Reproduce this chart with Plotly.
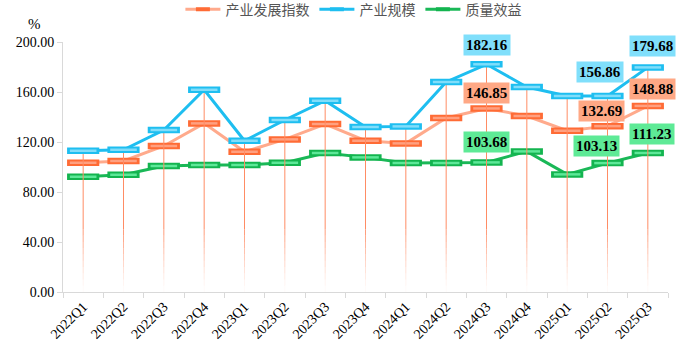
import plotly.graph_objects as go

categories = ["2022Q1", "2022Q2", "2022Q3", "2022Q4", "2023Q1", "2023Q2", "2023Q3", "2023Q4",
              "2024Q1", "2024Q2", "2024Q3", "2024Q4", "2025Q1", "2025Q2", "2025Q3"]
dev_index = [103.4, 104.8, 116.8, 134.9, 112.2, 122.1, 134.4, 121.0, 118.9, 139.2, 146.85, 140.8, 129.0, 132.69, 148.88]
scale = [113.0, 113.8, 129.6, 161.8, 121.0, 137.6, 153.0, 132.0, 132.5, 168.0, 182.16, 164.0, 156.8, 156.86, 179.68]
quality = [92.2, 93.8, 100.8, 101.6, 101.6, 103.4, 111.2, 107.7, 103.2, 103.2, 103.68, 112.5, 94.1, 103.13, 111.23]
series_names = ["产业发展指数", "产业规模", "质量效益"]
y_ticks = [0, 40, 80, 120, 160, 200]
label_idx = [10, 13, 14]

SERIF = "Liberation Serif, Times New Roman, serif"
CJK = "Noto Sans CJK SC"

styles = {
    "产业发展指数": dict(line="#FFAA8C", border="#FF6B35", fill="#FFA080", box="#FFA885"),
    "产业规模": dict(line="#1EBEF0", border="#1EBEF0", fill="#80DDFA", box="#80DFFB"),
    "质量效益": dict(line="#1AB857", border="#13B44F", fill="#5DE898", box="#5EEA96"),
}
data = {"产业发展指数": dev_index, "产业规模": scale, "质量效益": quality}

fig = go.Figure()


def add_series(name):
    st = styles[name]
    vals = data[name]
    fig.add_trace(go.Scatter(x=categories, y=vals, mode="lines", showlegend=False,
                             line=dict(color=st["line"], width=3), hoverinfo="skip"))
    fig.add_trace(go.Scatter(x=categories, y=vals, mode="markers", showlegend=False,
                             marker=dict(symbol="line-ew", size=23, color=st["border"],
                                         line=dict(color=st["border"], width=6.5)),
                             hoverinfo="skip"))
    fig.add_trace(go.Scatter(x=categories, y=vals, mode="markers", showlegend=False,
                             marker=dict(symbol="line-ew", size=19, color=st["fill"],
                                         line=dict(color=st["fill"], width=2.5)),
                             hoverinfo="skip"))


add_series("质量效益")
add_series("产业发展指数")

# vertical drop lines from top value to axis, fading near the bottom
tops = [max(a, b, c) for a, b, c in zip(dev_index, scale, quality)]
steps = 10
fade_top = 50.0
for k in range(steps + 1):
    xs, ys = [], []
    for c, t in zip(categories, tops):
        if k < steps:
            y0 = fade_top * k / steps
            y1 = fade_top * (k + 1) / steps
        else:
            y0, y1 = fade_top, t
        xs += [c, c, None]
        ys += [y0, y1, None]
    alpha = 1.0 if k == steps else 0.03 + 0.92 * (k / steps) ** 1.2
    fig.add_trace(go.Scatter(x=xs, y=ys, mode="lines", showlegend=False, hoverinfo="skip",
                             line=dict(color=f"rgba(255,140,100,{alpha:.3f})", width=1)))

add_series("产业规模")

# legend-only traces
for name in series_names:
    st = styles[name]
    fig.add_trace(go.Scatter(x=[None], y=[None], mode="lines+markers", name=name,
                             line=dict(color=st["line"], width=3),
                             marker=dict(symbol="line-ew", size=10, color=st["border"],
                                         line=dict(color=st["border"], width=4))))

# value labels
shifts = {
    10: {"产业规模": (0, 19), "产业发展指数": (0, 15), "质量效益": (0, 20)},
    13: {"产业规模": (-8, 23.5), "产业发展指数": (-6, 15), "质量效益": (-11, 17)},
    14: {"产业规模": (5, 21), "产业发展指数": (5, 17), "质量效益": (4, 19)},
}
for i in label_idx:
    for name in series_names:
        v = data[name][i]
        xs_, ys_ = shifts[i][name]
        fig.add_annotation(x=categories[i], y=v, xref="x", yref="y", text=f"{v:.2f}",
                           showarrow=False, xshift=xs_, yshift=ys_,
                           xanchor="center", yanchor="middle",
                           bgcolor=styles[name]["box"], borderpad=2,
                           font=dict(family=SERIF, size=15, color="#000000", weight="bold"))

fig.add_annotation(x=(34 - 63) / (690 - 63 - 22), y=(357 - 65 - 24) / (357 - 42 - 65),
                   xref="paper", yref="paper", text="%", showarrow=False,
                   xanchor="center", yanchor="middle",
                   font=dict(family=SERIF, size=15, color="#000000"))

fig.update_layout(
    width=690, height=357,
    margin=dict(l=63, r=22, t=42, b=65, autoexpand=False),
    plot_bgcolor="white", paper_bgcolor="white",
    showlegend=True,
    legend=dict(orientation="h", x=0.48, xanchor="center", y=0.973, yanchor="middle",
                yref="container",
                font=dict(family=CJK, size=14, color="#555555"), itemwidth=35,
                bgcolor="rgba(0,0,0,0)"),
    xaxis=dict(type="category", categoryorder="array", categoryarray=categories,
               range=[-0.5, len(categories) - 0.5],
               showgrid=False, showline=True, linecolor="#D9D9D9", linewidth=1,
               ticks="outside", tickson="boundaries", ticklen=5, tickcolor="#D9D9D9",
               tickangle=-45, tickfont=dict(family=SERIF, size=14, color="#000000"),
               zeroline=False, automargin=False),
    yaxis=dict(range=[0, 200], tickvals=y_ticks, tickformat=".2f", showgrid=False,
               showline=True, linecolor="#D9D9D9", linewidth=1, ticks="outside",
               ticklen=5, tickcolor="#D9D9D9", zeroline=False, automargin=False,
               tickfont=dict(family=SERIF, size=14, color="#000000")),
)

fig.write_html("out.html", config={"displayModeBar": False},
               post_script="document.body.style.margin='0';document.body.style.overflow='hidden';")
